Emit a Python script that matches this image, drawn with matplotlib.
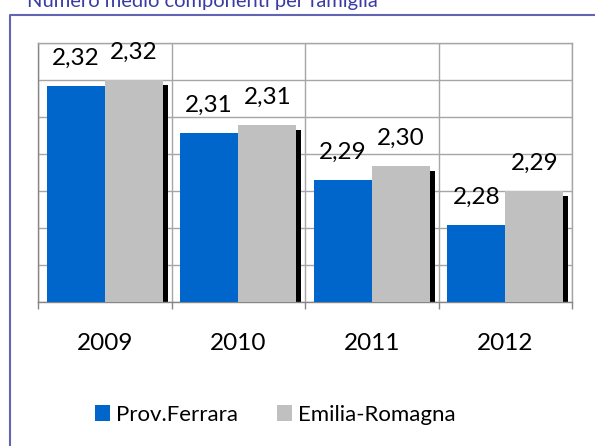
import numpy as np
import matplotlib.pyplot as plt
from matplotlib.lines import Line2D

years = ['2009', '2010', '2011', '2012']
ferrara = [2.3185, 2.3058, 2.2931, 2.2808]
emilia = [2.3200, 2.3079, 2.2968, 2.2900]
series_names = ['Prov.Ferrara', 'Emilia-Romagna']

plt.rcParams['font.family'] = ['Lato', 'DejaVu Sans']

blue = '#0066cc'
grey = '#c0c0c0'
ymin, ymax = 2.26, 2.33

fig = plt.figure(figsize=(5.95, 4.46), dpi=100)
ax = fig.add_axes([38 / 595, 144 / 446, 534 / 595, 259 / 446])

x = np.arange(len(years))
w = 0.4345
ax.bar(x - w / 2, np.array(ferrara) - ymin, bottom=ymin, width=w, color=blue, zorder=3,
       label=series_names[0])
# black shadow on the right of the grey bars
sh_w = 0.0375
sh_dy = 0.00135
ax.bar(x + w, np.array(emilia) - sh_dy - ymin, bottom=ymin, width=sh_w, align='edge',
       color='black', zorder=2.5)
ax.bar(x + w / 2, np.array(emilia) - ymin, bottom=ymin, width=w, color=grey, zorder=3,
       label=series_names[1])

for i in range(len(years)):
    for xx, v in [(x[i] - w / 2, ferrara[i]), (x[i] + w / 2, emilia[i])]:
        ax.annotate(f'{v:.2f}'.replace('.', ','), (xx, v), xytext=(0, 15.1),
                    textcoords='offset points', ha='center', va='baseline',
                    fontsize=17.5, color='black', zorder=4, annotation_clip=False)

ax.set_xlim(-0.5, len(years) - 0.5)
ax.set_ylim(ymin, ymax)
ax.set_yticks(np.arange(ymin, ymax + 0.001, 0.01))
ax.set_yticklabels([])
ax.tick_params(axis='y', length=0)
ax.set_xticks(x)
ax.set_xticklabels(years, fontsize=17.5)
ax.tick_params(axis='x', length=0, pad=22)
ax.set_xticks(np.arange(-0.5, len(years), 1.0), minor=True)
ax.tick_params(axis='x', which='minor', length=5, direction='out', color='#868686', width=1)
ax.grid(True, which='major', axis='y', color='#a6a6a6', lw=1, zorder=0)
ax.grid(True, which='minor', axis='x', color='#a6a6a6', lw=1, zorder=0)
for s in ax.spines.values():
    s.set_color('#a6a6a6')
    s.set_linewidth(1)
ax.spines['bottom'].set_color('#868686')
ax.spines['left'].set_color('#868686')

fig.legend(loc='center', bbox_to_anchor=(275 / 595, 31 / 446), ncol=2, frameon=False,
           fontsize=16, handlelength=0.68, handleheight=0.72, handletextpad=0.27,
           columnspacing=1.75)

# frame and title cut at the top
fig.add_artist(Line2D([9.5 / 595, 9.5 / 595, 1], [0, 431.5 / 446, 431.5 / 446],
                      transform=fig.transFigure, color='#6464b4', lw=1.5))
fig.text(27 / 595, (446 - 6.7) / 446, 'Numero medio componenti per famiglia',
         fontsize=14.5, color='#3b3ba6', va='baseline', ha='left')

fig.savefig('out.png', dpi=100)
